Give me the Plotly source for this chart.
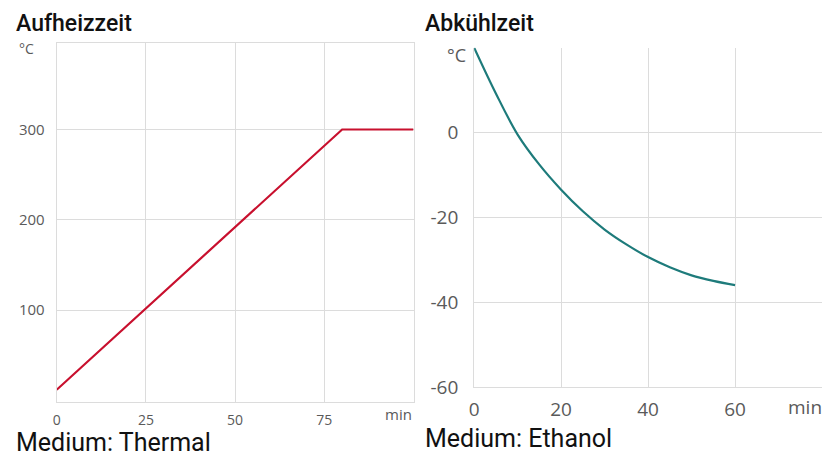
import plotly.graph_objects as go

# Heating (Aufheizzeit)
heat_time = [0, 80, 100]
heat_temp = [12, 300, 300]
heat_xticks = [0, 25, 50, 75]
heat_yticks = [100, 200, 300]

# Cooling (Abkühlzeit)
cool_time = [0, 5, 10, 15, 20, 25, 30, 35, 40, 45, 50, 55, 60]
cool_temp = [20, 9.2, -0.5, -7.6, -13.5, -18.6, -22.9, -26.4, -29.4, -31.8, -33.7, -35.0, -36.0]
cool_xticks = [0, 20, 40, 60]
cool_yticks = [-60, -40, -20, 0]
cool_yticklabels = ["-60", "-40", "-20", "0"]

W, H = 825, 464
def px(x): return x / W
def py(y): return 1 - y / H

fig = go.Figure()
fig.add_trace(go.Scatter(x=heat_time, y=heat_temp, mode="lines",
                         line=dict(color="#c8102e", width=2.2), xaxis="x", yaxis="y",
                         showlegend=False, hoverinfo="skip"))
fig.add_trace(go.Scatter(x=cool_time, y=cool_temp, mode="lines",
                         line=dict(color="#1e7b7b", width=2.2, shape="spline", smoothing=1.0),
                         xaxis="x2", yaxis="y2", showlegend=False, hoverinfo="skip"))

grid = "#dcdcdc"
tickc = "#5a5a5a"
axis_common = dict(showgrid=True, gridcolor=grid, gridwidth=1, showline=True, linecolor=grid,
                   linewidth=1, zeroline=False, ticks="", fixedrange=True)

fig.update_layout(
    width=W, height=H, margin=dict(l=0, r=0, t=0, b=0),
    paper_bgcolor="white", plot_bgcolor="white",
    xaxis=dict(domain=[px(52), px(411)], range=[0, 100], tickvals=heat_xticks,
               tickfont=dict(family="Open Sans", size=14, color=tickc), anchor="y",
               mirror=True, ticklabelstandoff=5, **axis_common),
    yaxis=dict(domain=[py(414), py(44)], range=[-2, 396], tickvals=heat_yticks,
               tickfont=dict(family="Open Sans", size=15, color=tickc), anchor="x",
               mirror=True, ticklabelstandoff=8, **axis_common),
    xaxis2=dict(domain=[px(472), px(822)], range=[0, 80], tickvals=cool_xticks,
                tickfont=dict(family="Open Sans", size=19, color=tickc), anchor="y2",
                ticklabelstandoff=5, **axis_common),
    yaxis2=dict(domain=[py(398), py(49)], range=[-60, 20], tickvals=cool_yticks,
                ticktext=cool_yticklabels,
                tickfont=dict(family="Open Sans", size=19, color=tickc), anchor="x2",
                ticklabelstandoff=11, **axis_common),
)

ann = []
def text(x, y, s, size, color="#111", weight="normal", xanchor="left", yanchor="middle", family="Roboto"):
    ann.append(dict(x=px(x), y=py(y), xref="paper", yref="paper", text=s, showarrow=False,
                    xanchor=xanchor, yanchor=yanchor,
                    font=dict(family=family, size=size, color=color, weight=weight)))

text(9, 24, "Aufheizzeit", 23, weight=500)
text(421, 24, "Abkühlzeit", 23, weight=500)
text(9, 455, "Medium: Thermal", 25)
text(421, 451, "Medium: Ethanol", 25)
text(12, 50, "°C", 14, color=tickc, family="Open Sans")
text(443, 57, "°C", 18, color=tickc, family="Open Sans")
text(411, 426, "min", 15, color=tickc, xanchor="right", family="Open Sans")
text(824, 419, "min", 19, color=tickc, xanchor="right", family="Open Sans")
fig.update_layout(annotations=ann)

fig.write_html("out.html", config={"displayModeBar": False},
               post_script="document.body.style.margin='0px';")
